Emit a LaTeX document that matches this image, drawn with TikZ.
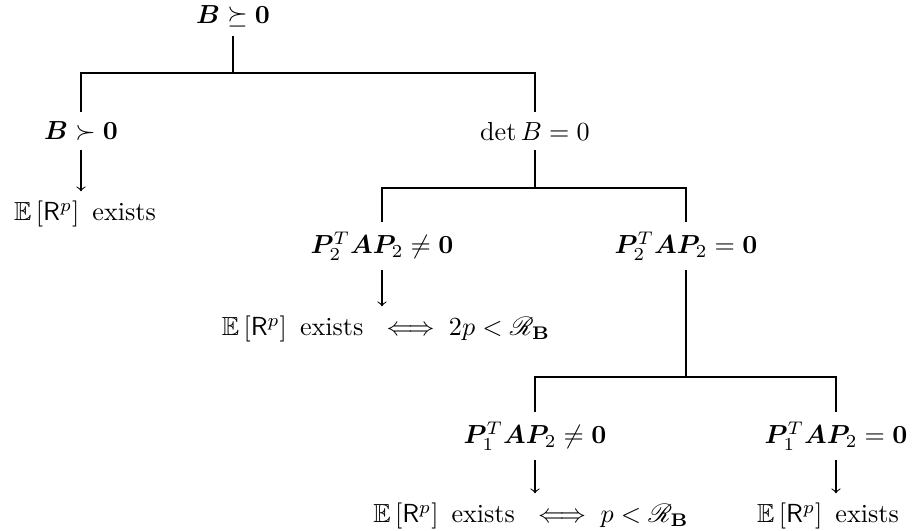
\documentclass[tikz,border=0pt]{standalone}
\usepackage{amsmath,amssymb,bm,mathrsfs}
\newcommand{\ERp}{\mathbb{E}\left[\mathsf{R}^p\right]\text{ exists}}
\begin{document}
\begin{tikzpicture}[x=0.383pt,y=-0.383pt, cond/.style={inner sep=3.5pt}, res/.style={inner sep=3.5pt}, arr/.style={->}]
\useasboundingbox (0,0) rectangle (913,531);
% top level
\node[cond] (root) at (233,16) {$\bm{B}\succeq\mathbf{0}$};
\node[cond] (pd) at (81,131) {$\bm{B}\succ\mathbf{0}$};
\node[cond] (sing) at (535,131) {$\det B=0$};
\node[res] (e1) at (85,214) {$\ERp$};
\coordinate (j1) at (233,73);
\draw (root) -- (j1);
\draw (pd) |- (j1) -| (sing);
\draw[arr] (pd) -- (e1.north -| pd);
% second level
\node[cond] (a2n) at (382,246) {$\bm{P}_2^T\bm{A}\bm{P}_2\neq\mathbf{0}$};
\node[cond] (a2z) at (686,246) {$\bm{P}_2^T\bm{A}\bm{P}_2=\mathbf{0}$};
\node[res] (e2) at (386,329) {$\ERp\ \iff 2p<\mathscr{R}_{\mathbf{B}}$};
\coordinate (j2) at (535,188);
\draw (sing) -- (j2);
\draw (a2n) |- (j2) -| (a2z);
\draw[arr] (a2n) -- (e2.north -| a2n);
% third level
\node[cond] (a1n) at (535,436) {$\bm{P}_1^T\bm{A}\bm{P}_2\neq\mathbf{0}$};
\node[cond] (a1z) at (836,436) {$\bm{P}_1^T\bm{A}\bm{P}_2=\mathbf{0}$};
\node[res] (e3) at (531,516) {$\ERp\ \iff p<\mathscr{R}_{\mathbf{B}}$};
\node[res] (e4) at (828,516) {$\ERp$};
\coordinate (j3) at (686,377);
\draw (a2z) -- (j3);
\draw (a1n) |- (j3) -| (a1z);
\draw[arr] (a1n) -- (e3.north -| a1n);
\draw[arr] (a1z) -- (e4.north -| a1z);
\end{tikzpicture}
\end{document}
